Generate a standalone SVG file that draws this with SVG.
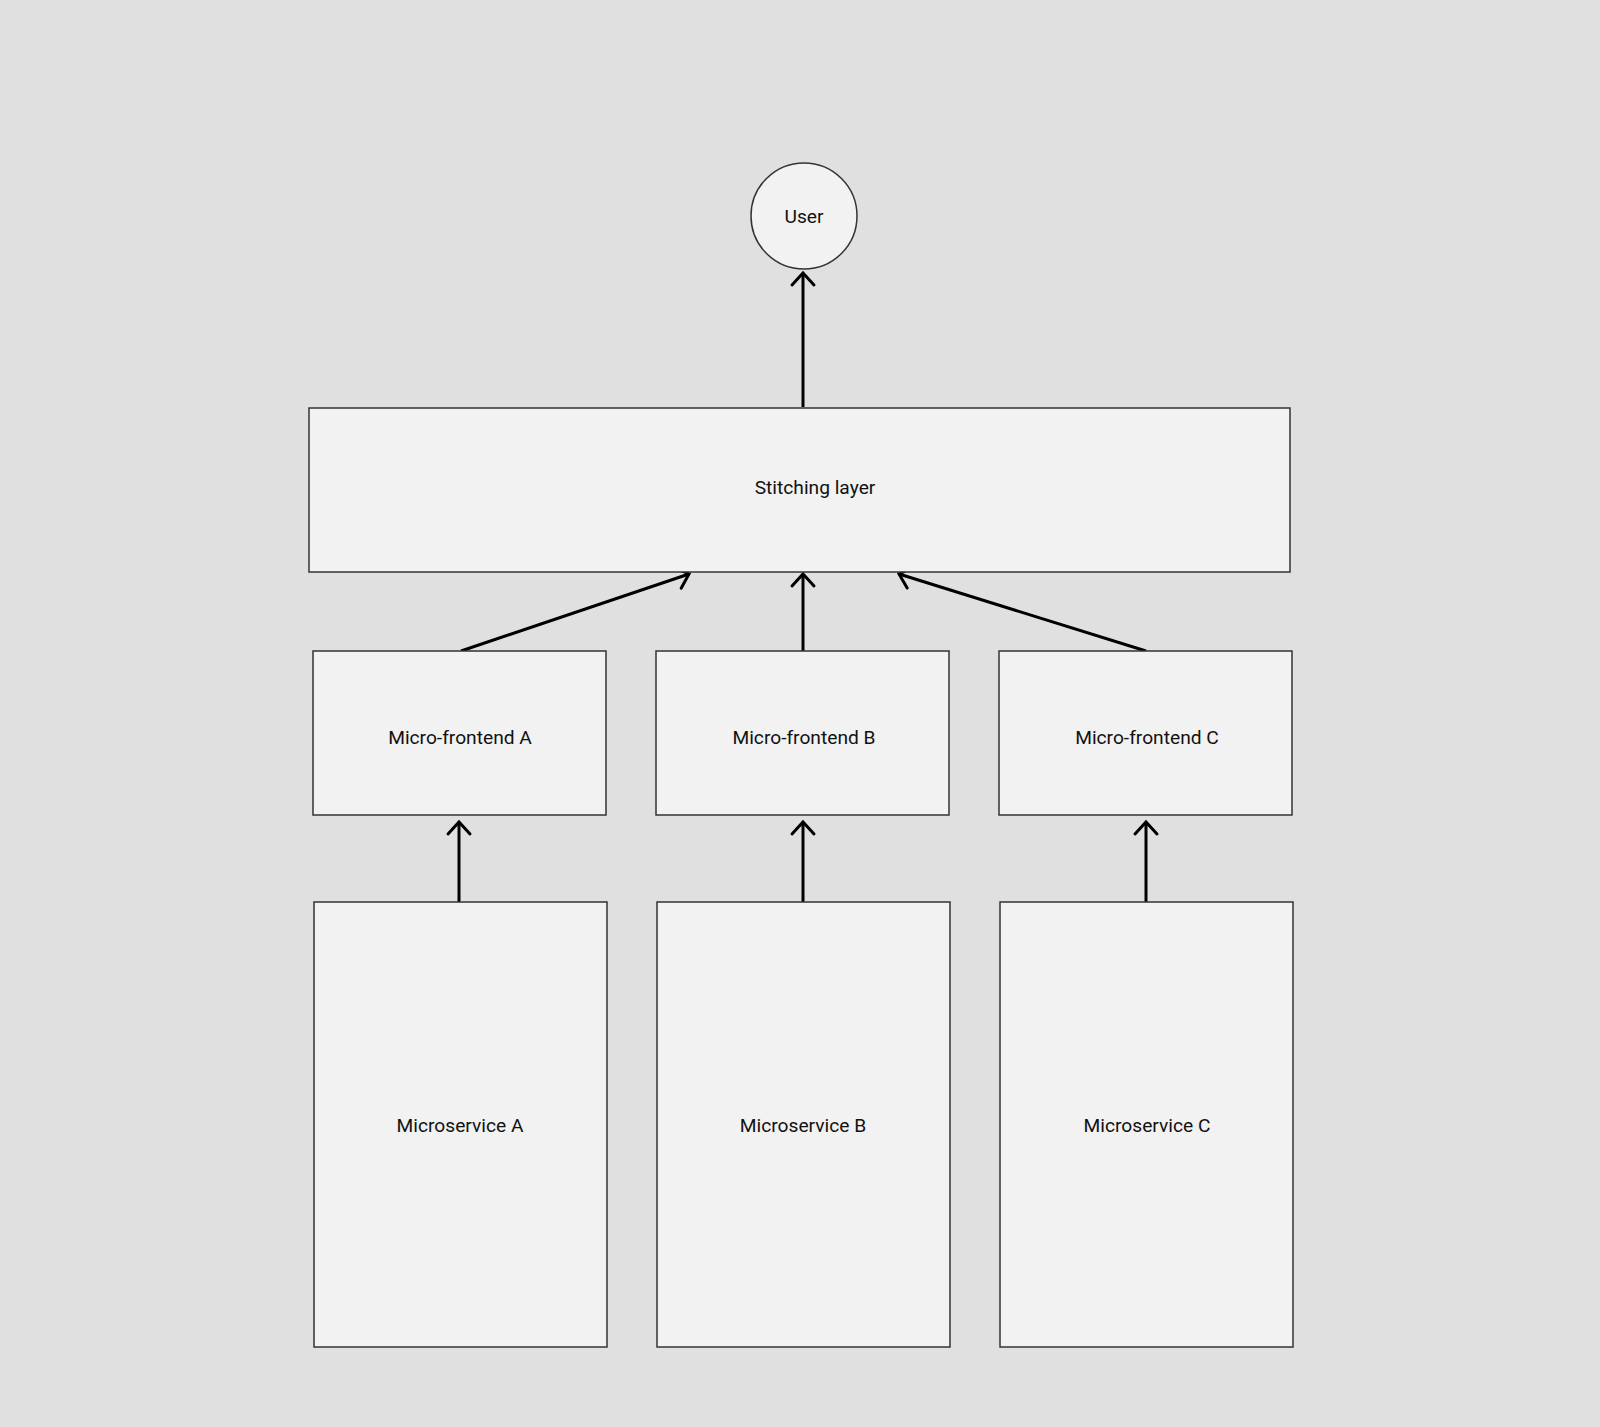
<svg xmlns="http://www.w3.org/2000/svg" width="1600" height="1427" viewBox="0 0 1600 1427">
<style>
.box{fill:#f2f2f2;stroke:#333;stroke-width:1.5}
.lbl{font-family:Roboto,"Liberation Sans",sans-serif;font-size:19.2px;fill:#111;text-anchor:middle}
.edge{stroke:#000;stroke-width:3;fill:none;marker-end:url(#arr)}
</style>
<defs>
<marker id="arr" markerUnits="userSpaceOnUse" viewBox="-16 -16 32 32" markerWidth="32" markerHeight="32" refX="0" refY="0" orient="auto">
<path d="M-12,-11 L0,0 L-12,11" stroke="#000" stroke-width="3" fill="none" stroke-linecap="round" stroke-linejoin="miter"/>
</marker>
</defs>
<rect x="0" y="0" width="1600" height="1427" fill="#e0e0e0"/>
<g id="connectors">
<line class="edge" x1="803" y1="407" x2="803" y2="273"/>
<line class="edge" x1="461" y1="651" x2="689" y2="574"/>
<line class="edge" x1="803" y1="651" x2="803" y2="574"/>
<line class="edge" x1="1146" y1="651" x2="899" y2="574"/>
<line class="edge" x1="459" y1="902" x2="459" y2="822"/>
<line class="edge" x1="803" y1="902" x2="803" y2="822"/>
<line class="edge" x1="1146" y1="902" x2="1146" y2="822"/>
</g>
<g id="user">
<circle class="box" cx="804" cy="216" r="53"/>
<text class="lbl" x="804" y="223">User</text>
</g>
<g id="stitching">
<rect class="box" x="309" y="408" width="981" height="164"/>
<text class="lbl" x="815" y="494">Stitching layer</text>
</g>
<g id="mfA">
<rect class="box" x="313" y="651" width="293" height="164"/>
<text class="lbl" x="460" y="744">Micro-frontend A</text>
</g>
<g id="mfB">
<rect class="box" x="656" y="651" width="293" height="164"/>
<text class="lbl" x="804" y="744">Micro-frontend B</text>
</g>
<g id="mfC">
<rect class="box" x="999" y="651" width="293" height="164"/>
<text class="lbl" x="1147" y="744">Micro-frontend C</text>
</g>
<g id="msA">
<rect class="box" x="314" y="902" width="293" height="445"/>
<text class="lbl" x="460" y="1132">Microservice A</text>
</g>
<g id="msB">
<rect class="box" x="657" y="902" width="293" height="445"/>
<text class="lbl" x="803" y="1132">Microservice B</text>
</g>
<g id="msC">
<rect class="box" x="1000" y="902" width="293" height="445"/>
<text class="lbl" x="1147" y="1132">Microservice C</text>
</g>
</svg>
